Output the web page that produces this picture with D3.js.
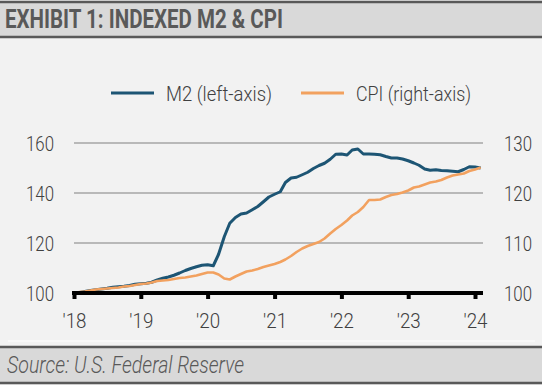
<!DOCTYPE html>
<html lang="en">
<head>
<meta charset="UTF-8">
<title>Indexed M2 & CPI</title>
<script src="https://d3js.org/d3.v7.min.js"></script>
<style>
  body { margin: 0; background: #fff; }
  svg text { font-family: Roboto, "DejaVu Sans Condensed", sans-serif; }
</style>
</head>
<body>
<script>
    const width = 542;
    const height = 385;

    // monthly index values, Jan 2018 = 100
    const m2 = [
        100.0, 100.2, 100.6, 101.0, 101.3, 101.6, 101.9, 102.3, 102.5, 102.7, 103.0, 103.5,
        103.7, 103.9, 104.3, 105.2, 105.9, 106.4, 107.1, 108.0, 109.0, 109.8, 110.5, 111.1,
        111.3, 110.9, 115.5, 122.5, 127.9, 130.2, 131.6, 132.0, 133.3, 134.6, 136.5, 138.4,
        139.5, 140.5, 144.2, 146.0, 146.3, 147.3, 148.3, 149.8, 151.0, 151.9, 153.5, 155.5,
        155.6, 155.2, 157.2, 157.6, 155.6, 155.6, 155.5, 155.3, 154.6, 154.0, 154.0, 153.6,
        152.9, 152.0, 151.1, 149.6, 149.1, 149.3, 149.0, 148.9, 148.7, 148.5, 149.4, 150.5,
        150.4, 150.0
    ];
    const cpi = [
        100.0, 100.2, 100.3, 100.5, 100.7, 100.8, 100.9, 101.0, 101.1, 101.3, 101.4, 101.6,
        101.8, 101.9, 102.1, 102.4, 102.5, 102.6, 102.8, 103.0, 103.1, 103.3, 103.5, 103.8,
        104.1, 104.1, 103.7, 102.9, 102.7, 103.3, 103.8, 104.3, 104.5, 104.8, 105.2, 105.5,
        105.8, 106.2, 106.7, 107.4, 108.2, 108.9, 109.4, 109.8, 110.2, 110.9, 111.9, 112.8,
        113.6, 114.5, 115.5, 116.2, 117.2, 118.6, 118.6, 118.7, 119.2, 119.6, 119.8, 120.1,
        120.5, 121.1, 121.3, 121.7, 122.1, 122.3, 122.6, 123.1, 123.5, 123.7, 123.9, 124.4,
        124.7, 125.1
    ];
    const months = d3.range(m2.length).map(i => new Date(2018, i, 1));
    const yearTicks = [2018, 2019, 2020, 2021, 2022, 2023, 2024].map(y => new Date(y, 0, 1));
    const leftTicks = [100, 120, 140, 160];
    const rightTicks = [100, 110, 120, 130];
    const legendItems = [
        {label: "M2 (left-axis)", color: "#1d5574", textW: 106},
        {label: "CPI (right-axis)", color: "#f2a15f", textW: 115}
    ];

    const svg = d3.select("body").append("svg")
        .attr("width", width)
        .attr("height", height);

    // frame
    svg.append("rect").attr("x", 0).attr("y", 0).attr("width", width).attr("height", height).attr("fill", "#f2f2f2");
    svg.append("rect").attr("x", 0).attr("y", 2).attr("width", width).attr("height", 35).attr("fill", "#d9d9d9");
    svg.append("rect").attr("x", 0).attr("y", 347).attr("width", width).attr("height", 36).attr("fill", "#d9d9d9");
    [2, 37, 347, 383].forEach(y => {
        svg.append("line").attr("x1", 0).attr("x2", width).attr("y1", y).attr("y2", y)
            .attr("stroke", "#595959").attr("stroke-width", 2.5);
    });
    svg.append("line").attr("x1", 8).attr("x2", 535).attr("y1", 341).attr("y2", 341)
        .attr("stroke", "#fafafa").attr("stroke-width", 1.5);

    svg.append("text").attr("x", 5).attr("y", 28)
        .attr("font-size", 25).attr("font-weight", "bold").attr("fill", "#595959")
        .attr("textLength", 278).attr("lengthAdjust", "spacingAndGlyphs")
        .text("EXHIBIT 1: INDEXED M2 & CPI");
    svg.append("text").attr("x", 7).attr("y", 373)
        .attr("font-size", 23).attr("font-style", "italic").attr("font-weight", 300).attr("fill", "#595959")
        .attr("textLength", 237).attr("lengthAdjust", "spacingAndGlyphs")
        .text("Source: U.S. Federal Reserve");

    const x = d3.scaleTime().domain([yearTicks[0], yearTicks[6]]).range([74, 475]);
    const yL = d3.scaleLinear().domain([100, 160]).range([293, 143]);
    const yR = d3.scaleLinear().domain([100, 130]).range([293, 143]);

    // gridlines
    svg.append("g")
        .selectAll("line")
        .data(leftTicks.slice(1))
        .join("line")
        .attr("x1", 74).attr("x2", 483)
        .attr("y1", d => yL(d)).attr("y2", d => yL(d))
        .attr("stroke", "#a6a6a6").attr("stroke-width", 1.5);

    // y labels
    svg.append("g")
        .selectAll("text")
        .data(leftTicks)
        .join("text")
        .attr("x", 54).attr("y", d => yL(d) + 8)
        .attr("text-anchor", "end")
        .attr("font-size", 21).attr("font-weight", 300).attr("fill", "#404040")
        .attr("textLength", 28).attr("lengthAdjust", "spacingAndGlyphs")
        .text(d => d);
    svg.append("g")
        .selectAll("text")
        .data(rightTicks)
        .join("text")
        .attr("x", 504).attr("y", d => yR(d) + 8)
        .attr("font-size", 21).attr("font-weight", 300).attr("fill", "#404040")
        .attr("textLength", 28).attr("lengthAdjust", "spacingAndGlyphs")
        .text(d => d);

    // lines
    const lineL = d3.line().x((d, i) => x(months[i])).y(d => yL(d));
    const lineR = d3.line().x((d, i) => x(months[i])).y(d => yR(d));
    svg.append("path").datum(m2).attr("d", lineL)
        .attr("fill", "none").attr("stroke", legendItems[0].color).attr("stroke-width", 3)
        .attr("stroke-linejoin", "round");
    svg.append("path").datum(cpi).attr("d", lineR)
        .attr("fill", "none").attr("stroke", legendItems[1].color).attr("stroke-width", 2.6)
        .attr("stroke-linejoin", "round");

    // x axis
    const xAxis = svg.append("g")
        .attr("transform", "translate(0,293)")
        .call(d3.axisBottom(x).tickValues(yearTicks).tickSizeInner(6).tickSizeOuter(0)
            .tickFormat(d => "'" + d3.timeFormat("%y")(d)));
    xAxis.select(".domain").attr("stroke", "#000").attr("stroke-width", 4)
        .attr("d", "M72,0H483");
    xAxis.selectAll(".tick line").attr("stroke", "#000").attr("stroke-width", 4);
    xAxis.selectAll(".tick text")
        .attr("font-family", "Roboto, DejaVu Sans Condensed, sans-serif")
        .attr("font-size", 21).attr("font-weight", 300).attr("fill", "#404040")
        .attr("y", 35).attr("dy", null)
        .attr("textLength", 24).attr("lengthAdjust", "spacingAndGlyphs");

    // legend
    const legend = svg.append("g");
    const legendX = [111, 301];
    legendItems.forEach((d, i) => {
        legend.append("line")
            .attr("x1", legendX[i]).attr("x2", legendX[i] + 43)
            .attr("y1", 93).attr("y2", 93)
            .attr("stroke", d.color).attr("stroke-width", 3);
        legend.append("text")
            .attr("x", legendX[i] + 55).attr("y", 101)
            .attr("font-size", 20).attr("font-weight", 300).attr("fill", "#404040")
            .attr("textLength", d.textW).attr("lengthAdjust", "spacingAndGlyphs")
            .text(d.label);
    });
</script>
</body>
</html>
